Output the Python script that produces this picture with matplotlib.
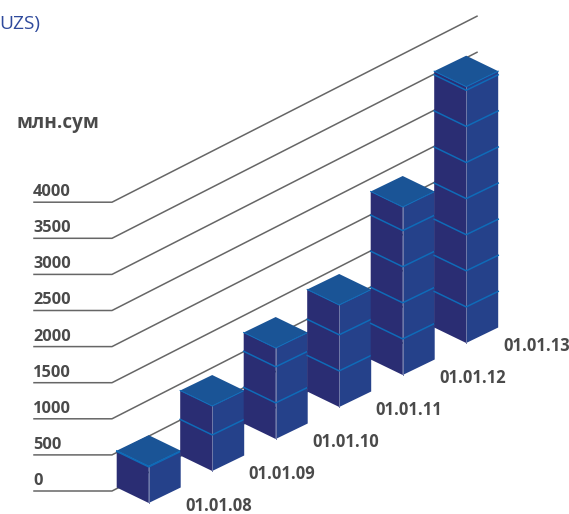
import matplotlib
matplotlib.use('Agg')
import matplotlib.pyplot as plt
from matplotlib.patches import Polygon

dates = ['01.01.08', '01.01.09', '01.01.10', '01.01.11', '01.01.12', '01.01.13']
values = [510, 900, 1260, 1413, 2327, 3550]
ticks = [0, 500, 1000, 1500, 2000, 2500, 3000, 3500, 4000]

W, H = 569, 514
PX_PER_UNIT = 36.1 / 500
X0, Y0 = 148.7, 503.0   # front corner of the first bar, pixels
STEP_X, STEP_Y = 63.5, -32.0
HALF_W, HALF_D = 32.0, 15.5

C_LEFT = '#2a2d73'
C_RIGHT = '#25418a'
C_TOP = '#1a5496'
C_LINE = '#0f6bb8'
C_EDGE = '#6f78a8'
C_TEXT = '#4a4a4a'
FONT = 'Open Sans'

fig = plt.figure(figsize=(W / 100, H / 100), dpi=100)
ax = fig.add_axes([0, 0, 1, 1])
ax.set_xlim(0, W)
ax.set_ylim(H, 0)
ax.axis('off')

# wall lines behind the bars
for t in ticks:
    y = 491 - t * PX_PER_UNIT
    ax.plot([34, 112, 477], [y, y, y - 186], color='#666666', lw=1.1, zorder=1)
    ax.text(33, y - 6, str(t), fontsize=11.8, fontweight='bold', color=C_TEXT,
            family=FONT, ha='left', va='baseline', zorder=5)

ax.text(17, 123, 'млн.сум', fontsize=13.6, fontweight='bold', color=C_TEXT,
        family=FONT, ha='left', va='center')
ax.text(40, 24, 'UZS)', fontsize=13.8, color='#2f4a9c', family=FONT,
        ha='right', va='center')

# draw left to right so nearer bars sit over the earlier ones
for i, (v, d) in enumerate(zip(values, dates)):
    cx = X0 + i * STEP_X
    cy = Y0 + i * STEP_Y
    h = v * PX_PER_UNIT
    z = 2 + i * 0.01
    ax.add_patch(Polygon([(cx - HALF_W, cy - HALF_D), (cx, cy), (cx, cy - h),
                          (cx - HALF_W, cy - h - HALF_D)], fc=C_LEFT, ec='none', zorder=z))
    ax.add_patch(Polygon([(cx + HALF_W, cy - HALF_D), (cx, cy), (cx, cy - h),
                          (cx + HALF_W, cy - h - HALF_D)], fc=C_RIGHT, ec='none', zorder=z))
    ax.plot([cx, cx], [cy, cy - h], color=C_EDGE, lw=0.7, zorder=z)
    # division lines every 500
    t = 500
    while t < v:
        dy = t * PX_PER_UNIT
        ax.plot([cx - HALF_W, cx, cx + HALF_W],
                [cy - HALF_D - dy, cy - dy, cy - HALF_D - dy],
                color=C_LINE, lw=1.1, zorder=z)
        t += 500
    ax.add_patch(Polygon([(cx, cy - h), (cx + HALF_W, cy - h - HALF_D),
                          (cx, cy - h - 2 * HALF_D), (cx - HALF_W, cy - h - HALF_D)],
                         fc=C_TOP, ec='none', zorder=z))
    ax.plot([cx - HALF_W, cx, cx + HALF_W],
            [cy - h - HALF_D, cy - h, cy - h - HALF_D],
            color=C_LINE, lw=0.8, zorder=z)
    ax.text(cx + 70, cy + 3, d, fontsize=11.9, fontweight='bold', color=C_TEXT,
            family=FONT, ha='center', va='center', zorder=5)

fig.savefig('out.png', dpi=100)
